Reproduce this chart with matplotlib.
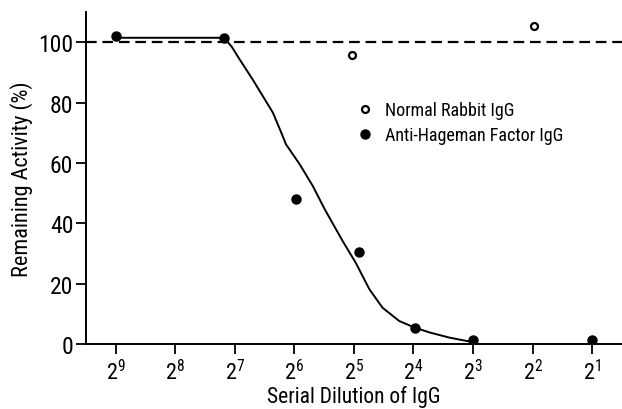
import matplotlib
matplotlib.use("Agg")
import matplotlib.pyplot as plt
from matplotlib import font_manager

# exponents of the serial dilution (2^n)
dilution_exp = [9, 8, 7, 6, 5, 4, 3, 2, 1]
tick_labels = [f"$2^{{{e}}}$" for e in dilution_exp]

# Anti-Hageman factor IgG (filled dots)
anti_x = [9.0, 7.18, 5.98, 4.92, 3.98, 3.0, 1.0]
anti_y = [102.0, 101.5, 48.0, 30.4, 5.3, 1.4, 1.3]

# normal rabbit IgG (open circles)
normal_x = [5.03, 1.97]
normal_y = [95.7, 105.4]

# hand-drawn fit curve
curve_x = [9.0, 7.18, 7.05, 6.92, 6.70, 6.53, 6.36, 6.22, 6.14, 5.91, 5.69, 5.49,
           5.41, 5.19, 4.97, 4.74, 4.52, 4.24, 3.98, 3.73, 3.40, 3.06, 2.95]
curve_y = [101.5, 101.5, 98.5, 94.4, 87.7, 82.2, 76.7, 70.1, 66.2, 59.6, 52.4, 44.7,
           41.9, 34.2, 27.0, 18.2, 12.1, 7.7, 5.5, 3.9, 2.2, 0.9, 0.6]

families = {f.name for f in font_manager.fontManager.ttflist}
font = "DejaVu Sans"
for cand in ["Liberation Sans Narrow", "DejaVu Sans Condensed", "Roboto Condensed"]:
    if cand in families:
        font = cand
        break
plt.rcParams["font.family"] = [font, "DejaVu Sans"]
plt.rcParams["mathtext.fontset"] = "custom"
plt.rcParams["mathtext.rm"] = font
plt.rcParams["mathtext.it"] = font

fig = plt.figure(figsize=(6.22, 4.10), dpi=100)
ax = fig.add_axes([0.138, 0.158, 0.862, 0.810])

ax.axhline(100, color="black", lw=1.6, dashes=(4.8, 2.6), zorder=1)
ax.plot(curve_x, curve_y, color="black", lw=1.4, zorder=2)
ax.plot(anti_x, anti_y, "o", color="black", ms=6.5, zorder=3,
        label="Anti-Hageman Factor IgG")
ax.plot(normal_x, normal_y, "o", mfc="white", mec="black", mew=1.6, ms=5, zorder=3,
        label="Normal Rabbit IgG")

ax.set_xlim(9.5, 0.5)
ax.set_ylim(0, 110)
ax.set_xticks(dilution_exp)
ax.set_xticklabels(tick_labels, fontsize=16)
ax.set_yticks([0, 20, 40, 60, 80, 100])
ax.tick_params(axis="y", labelsize=17, length=7, width=1.3, direction="out", pad=2)
ax.tick_params(axis="x", length=7, width=1.3, direction="out", pad=4)

for side in ["top", "right"]:
    ax.spines[side].set_visible(False)
for side in ["left", "bottom"]:
    ax.spines[side].set_linewidth(1.4)

ax.set_xlabel("Serial Dilution of IgG", fontsize=15.5, labelpad=0)
ax.set_ylabel("Remaining Activity (%)", fontsize=16, labelpad=4)

handles, labels = ax.get_legend_handles_labels()
ax.legend(handles[::-1], labels[::-1], loc="upper left", bbox_to_anchor=(0.49, 0.754),
          frameon=False, fontsize=13, handlelength=1.0, handletextpad=0.6,
          labelspacing=0.4, borderaxespad=0)

fig.savefig("out.png", dpi=100)
